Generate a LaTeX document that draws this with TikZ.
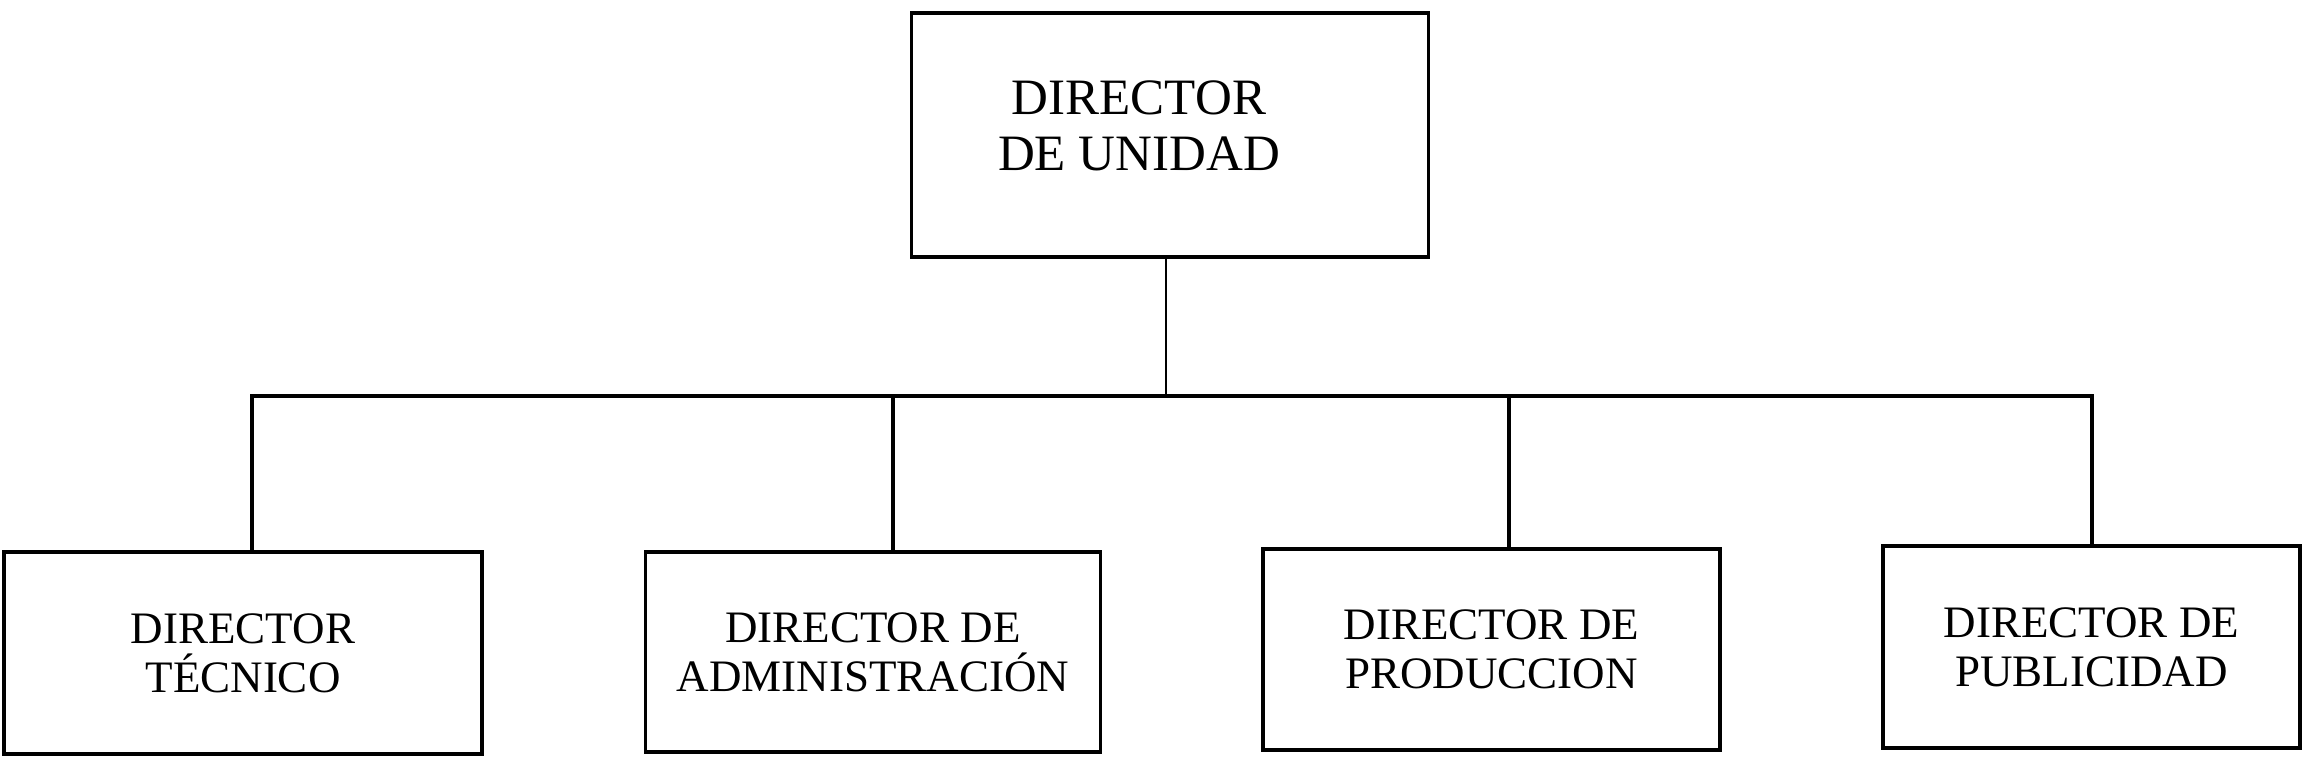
\documentclass[tikz,border=0pt]{standalone}
\usepackage{fontspec}
\setmainfont{Liberation Serif}
\begin{document}
\begin{tikzpicture}[x=0.3pt,y=-0.3pt,
  orgbox/.style={draw=black,line width=1.15pt,rectangle,align=center,inner sep=0pt},
  toplabel/.style={align=center,inner sep=0pt,font=\fontsize{15.3}{16.8}\selectfont},
  sublabel/.style={font=\fontsize{13.5}{14.8}\selectfont},
  conn/.style={draw=black,line width=1pt},
  thinconn/.style={draw=black,line width=0.5pt}]
\fill[white] (0,0) rectangle (2310,760);
\useasboundingbox (0,0) rectangle (2310,760);
\node[orgbox,minimum width=155.1pt,minimum height=73.2pt] (top) at (1170,135) {};
\node[toplabel] (toptxt) at ([xshift=-9.3pt,yshift=2.7pt]top.center) {DIRECTOR\\DE UNIDAD};
\node[orgbox,sublabel,minimum width=143.4pt,minimum height=60.6pt] (b1) at (243,653) {DIRECTOR\\TÉCNICO};
\node[orgbox,sublabel,minimum width=136.5pt,minimum height=60pt] (b2) at (873,652) {DIRECTOR DE\\ADMINISTRACIÓN};
\node[orgbox,sublabel,minimum width=137.1pt,minimum height=60.3pt] (b3) at (1491.5,649.5) {DIRECTOR DE\\PRODUCCION};
\node[orgbox,sublabel,minimum width=125.1pt,minimum height=60.6pt] (b4) at (2091.5,647) {DIRECTOR DE\\PUBLICIDAD};
\coordinate (t0) at (1166,396);
\coordinate (h1) at (252,396);
\coordinate (h2) at (893,396);
\coordinate (h3) at (1509,396);
\coordinate (h4) at (2092,396);
\draw[thinconn] (top.south -| t0) -- (t0);
\draw[conn,line cap=rect] (h1) -- (h4);
\draw[conn] (h1) -- (h1 |- b1.north);
\draw[conn] (h2) -- (h2 |- b2.north);
\draw[conn] (h3) -- (h3 |- b3.north);
\draw[conn] (h4) -- (h4 |- b4.north);
\end{tikzpicture}
\end{document}
